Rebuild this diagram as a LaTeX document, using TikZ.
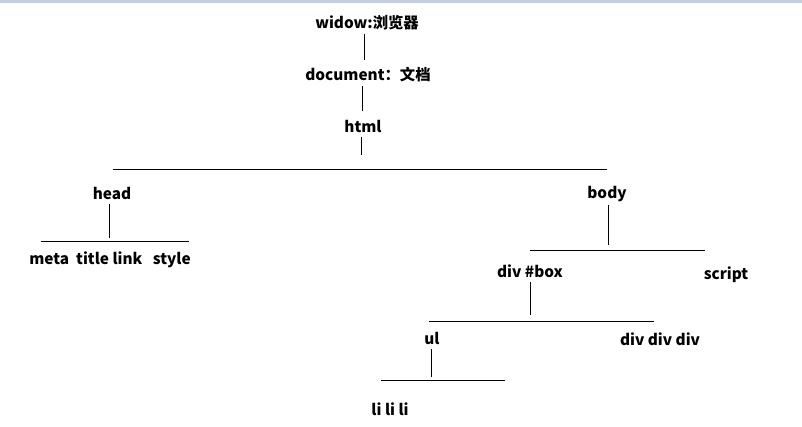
\documentclass[tikz,border=0pt]{standalone}
\usepackage{fontspec}
\setmainfont{Noto Sans CJK SC}
\definecolor{topband}{HTML}{C5CDE0}

\begin{document}
\begin{tikzpicture}[x=0.75pt,y=-0.75pt,
	lbl/.style={font=\bfseries\fontsize{11.5}{14}\selectfont, inner sep=0pt, minimum height=16.5pt},
	edge/.style={line width=0.75pt}]
	\fill[topband] (0,0) rectangle (802,3);
	\useasboundingbox (0,0) rectangle (802,427);
	
	\node[lbl] (win) at (367,23) {widow:浏览器};
	\node[lbl] (doc) at (368,75) {document：文档};
	\node[lbl] (html) at (363,126) {html};
	\node[lbl] (head) at (112,193) {head};
	\node[lbl] (body) at (607,194) {body};
	\node[lbl] (headkids) at (110,260) {meta\ \ title link\ \ \ style};
	\node[lbl] (box) at (530,271) {div \#box};
	\node[lbl] (script) at (726,275) {script};
	\node[lbl] (ul) at (432,338) {ul};
	\node[lbl] (divs) at (660,339) {div div div};
	\node[lbl] (lis) at (390,409) {li li li};
	
	\coordinate (barA1) at (113,170); \coordinate (barA2) at (607,170);
	\coordinate (barB1) at (41,242);  \coordinate (barB2) at (189,242);
	\coordinate (barC1) at (530,251); \coordinate (barC2) at (705,251);
	\coordinate (barD1) at (429,321); \coordinate (barD2) at (654,321);
	\coordinate (barE1) at (381,380); \coordinate (barE2) at (505,380);
	
	\coordinate (htmlend) at (361,155);
	\coordinate (headend) at (109,238);
	\coordinate (bodyend) at (608,245);
	\coordinate (boxend) at (530,315);
	\coordinate (ulend) at (431,377);
	
	\draw[edge, shorten >=3pt] ([xshift=-2.2pt]win.south) -- ([xshift=-2.2pt]win.south |- doc.north);
	\draw[edge, shorten >=3pt] ([xshift=-4.5pt]doc.south) -- ([xshift=-4.5pt]doc.south |- html.north);
	\draw[edge] ([xshift=-1.5pt]html.south) -- (html.south -| htmlend) -- (htmlend);
	\draw[edge] (head.south -| headend) -- (headend);
	\draw[edge] (body.south -| bodyend) -- (bodyend);
	\draw[edge] (box.south -| boxend) -- (boxend);
	\draw[edge] (ul.south -| ulend) -- (ulend);
	
	\draw[edge] (barA1) -- (barA2);
	\draw[edge] (barB1) -- (barB2);
	\draw[edge] (barC1) -- (barC2);
	\draw[edge] (barD1) -- (barD2);
	\draw[edge] (barE1) -- (barE2);
	
	\end{tikzpicture}
\end{document}
